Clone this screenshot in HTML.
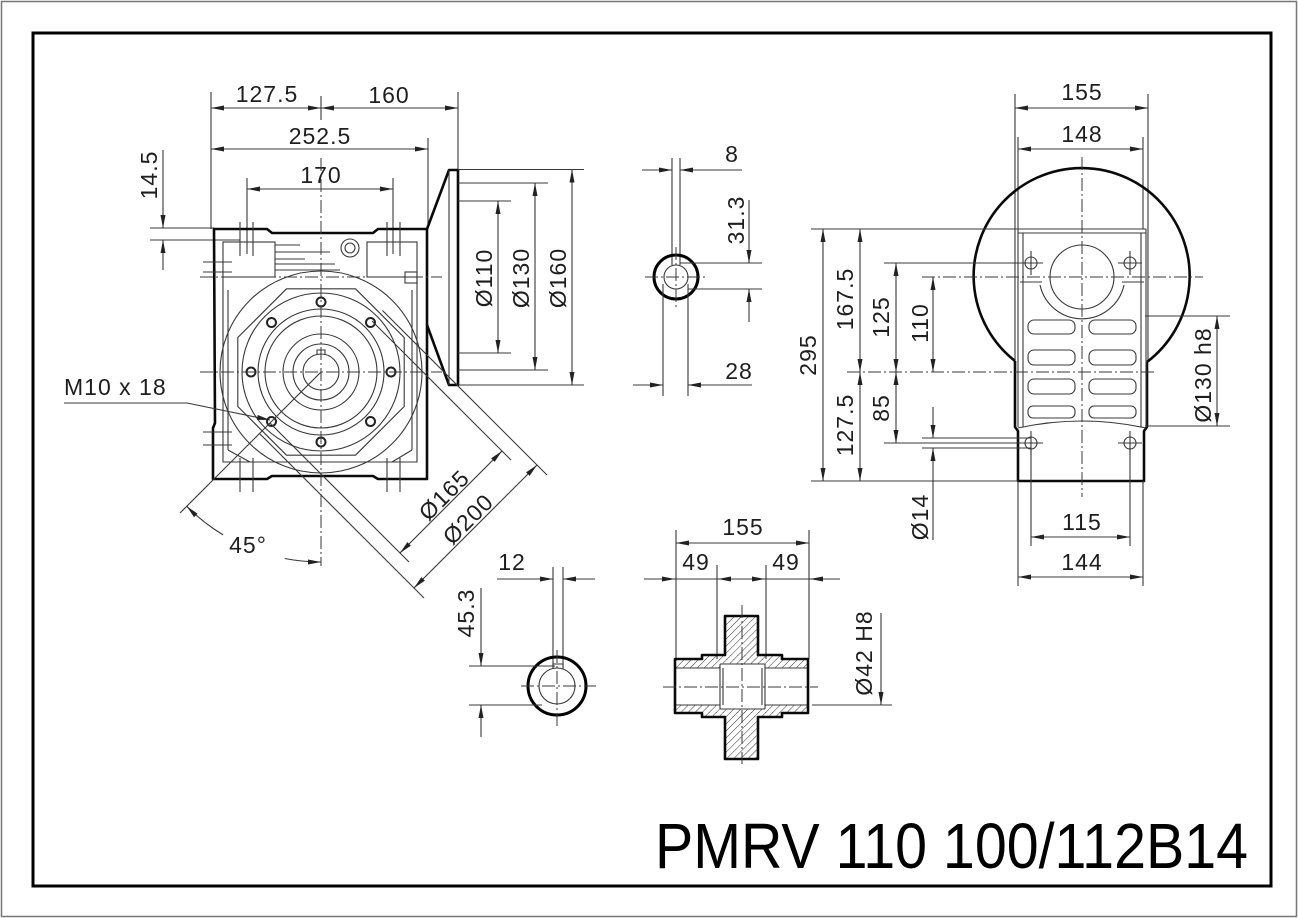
<!DOCTYPE html>
<html><head><meta charset="utf-8"><style>
html,body{margin:0;padding:0;background:#fff;}
svg{display:block}
text{font-family:"Liberation Sans",Arial,sans-serif;fill:#1e1e1e;}
.n{font-size:23px;letter-spacing:1px;text-anchor:middle;dominant-baseline:central;}
.t{stroke:#383838;stroke-width:1.1;fill:none;}
.k{stroke:#0a0a0a;stroke-width:2.6;fill:none;stroke-linejoin:round;}
.c{stroke:#383838;stroke-width:1;fill:none;stroke-dasharray:13 3 2 3;}
.d{marker-start:url(#a);marker-end:url(#a);}
.e{marker-end:url(#a);}
</style></head><body>
<svg width="1298" height="918" viewBox="0 0 1298 918" xmlns="http://www.w3.org/2000/svg">
<defs>
<marker id="a" viewBox="0 0 13 5" refX="13" refY="2.5" markerWidth="13" markerHeight="5" markerUnits="userSpaceOnUse" orient="auto-start-reverse"><path d="M0,0L13,2.5L0,5Z" fill="#222"/></marker>
<pattern id="h" width="5" height="5" patternUnits="userSpaceOnUse" patternTransform="rotate(45)"><line x1="0" y1="0" x2="0" y2="5" stroke="#333" stroke-width="1"/></pattern>
</defs>
<rect x="1.5" y="1.5" width="1295" height="915" fill="#fff" stroke="#777" stroke-width="1.5"/>
<rect x="33" y="33" width="1238" height="853" fill="none" stroke="#000" stroke-width="3"/>

<!-- ================= LEFT VIEW ================= -->
<g class="t">
<line x1="211" y1="92" x2="211" y2="229"/>
<line x1="321" y1="96" x2="321" y2="120"/>
<line x1="458" y1="92" x2="458" y2="170"/>
<line x1="428" y1="138" x2="428" y2="229"/>
<line x1="247" y1="178" x2="247" y2="254"/>
<line x1="393" y1="178" x2="393" y2="254"/>
</g>
<g class="t d">
<line x1="211" y1="108" x2="321" y2="108"/>
<line x1="321" y1="108" x2="458" y2="108"/>
<line x1="211" y1="149" x2="428" y2="149"/>
<line x1="247" y1="189" x2="393" y2="189"/>
</g>
<text class="n" x="267" y="94">127.5</text>
<text class="n" x="389" y="95">160</text>
<text class="n" x="320" y="136">252.5</text>
<text class="n" x="321" y="175">170</text>

<!-- 14.5 -->
<line class="t" x1="150" y1="228" x2="214" y2="228"/>
<line class="t" x1="150" y1="240" x2="240" y2="240"/>
<line class="t e" x1="163" y1="150" x2="163" y2="228"/>
<line class="t e" x1="163" y1="270" x2="163" y2="240"/>
<text class="n" transform="translate(149,175) rotate(-90)">14.5</text>

<!-- flange -->
<path class="k" d="M427,229 L449,170 L458,170 L458,385 L449,385 L427,325"/>
<line class="t" x1="449" y1="170" x2="449" y2="385"/>
<g class="t">
<line x1="458" y1="169.5" x2="584" y2="169.5"/>
<line x1="458" y1="183" x2="548" y2="183"/>
<line x1="458" y1="201" x2="511" y2="201"/>
<line x1="458" y1="353" x2="511" y2="353"/>
<line x1="458" y1="370" x2="548" y2="370"/>
<line x1="458" y1="385" x2="584" y2="385"/>
</g>
<g class="t d">
<line x1="498" y1="201" x2="498" y2="353"/>
<line x1="535" y1="183" x2="535" y2="370"/>
<line x1="572" y1="169.5" x2="572" y2="385"/>
</g>
<text class="n" transform="translate(484,278) rotate(-90)">Ø110</text>
<text class="n" transform="translate(521,278) rotate(-90)">Ø130</text>
<text class="n" transform="translate(558,278) rotate(-90)">Ø160</text>

<!-- housing -->
<path class="k" d="M214,229 H267 L272,233 H373 L378,229 H427 V479 H378 L373,476 H272 L267,479 H213 V428 L215,423 Z"/>
<rect class="t" x="223" y="242" width="52" height="35"/>
<rect class="t" x="367" y="242" width="50" height="35"/>
<path class="t" d="M275,245 H300 M275,252 H330 M275,259 H305 M275,264 H335 M275,270 H340 M223,277 V462 H417 V277 M228,290 V450 M412,290 V450 M228,450 L250,462 M412,450 L392,462"/>
<circle class="t" cx="350" cy="248" r="9"/><circle class="t" cx="350" cy="248" r="5"/>
<rect class="t" x="405" y="272" width="12" height="11"/>
<path class="t" d="M203,262 H232 M203,272 H232 M203,432 H232 M203,445 H232 M240,458 V492 M253,458 V492 M387,458 V492 M400,458 V492 M240,222 V256 M253,222 V256 M387,222 V256 M400,222 V256"/>

<!-- wheel -->
<circle class="t" cx="321" cy="372" r="101" stroke-width="1.3"/>
<polygon class="t" points="404.2,406.5 355.5,455.2 286.5,455.2 237.8,406.5 237.8,337.5 286.5,288.8 355.5,288.8 404.2,337.5" stroke-linejoin="round"/>
<circle class="t" cx="321" cy="372" r="79"/>
<circle class="t" cx="321" cy="372" r="63"/>
<circle class="t" cx="321" cy="372" r="56"/>
<circle class="t" cx="321" cy="372" r="38"/>
<circle class="t" cx="321" cy="372" r="28"/>
<circle class="t" cx="321" cy="372" r="18"/>
<path class="t" d="M317,354.5 V350 H325 V354.5"/>
<g stroke="#222" stroke-width="2" fill="#fff">
<circle cx="391" cy="372" r="4.5"/><circle cx="370.5" cy="421.5" r="4.5"/>
<circle cx="321" cy="442" r="4.5"/><circle cx="271.5" cy="421.5" r="4.5"/>
<circle cx="251" cy="372" r="4.5"/><circle cx="271.5" cy="322.5" r="4.5"/>
<circle cx="321" cy="302" r="4.5"/><circle cx="370.5" cy="322.5" r="4.5"/>
</g>
<g class="c">
<line x1="321" y1="158" x2="321" y2="566"/>
<line x1="200" y1="372" x2="442" y2="372"/>
<line x1="200" y1="277" x2="442" y2="277"/>
</g>

<!-- diagonal diameters -->
<g class="t">
<line x1="270" y1="423" x2="409" y2="562"/>
<line x1="372" y1="321" x2="511" y2="460"/>
<line x1="259.5" y1="433.5" x2="424" y2="598"/>
<line x1="382.5" y1="310.5" x2="547" y2="475"/>
</g>
<g class="t d">
<line x1="400" y1="553" x2="502" y2="451"/>
<line x1="414" y1="588" x2="537" y2="465"/>
</g>
<text class="n" transform="translate(444,495) rotate(-45)">Ø165</text>
<text class="n" transform="translate(468,519) rotate(-45)">Ø200</text>

<!-- 45 deg -->
<line class="t" x1="321" y1="372" x2="180" y2="513"/>
<path class="t e" d="M223.1,534.9 A190,190 0 0,1 186.7,506.3"/>
<path class="t e" d="M284.7,558.5 A190,190 0 0,0 321,562"/>
<text class="n" x="248" y="545">45°</text>

<!-- M10 -->
<text x="64" y="395" style="font-size:23px;letter-spacing:1px">M10 x 18</text>
<path class="t e" d="M64,403 H187 L270,420"/>

<!-- ================= MIDDLE KEY ================= -->
<line class="t" x1="672" y1="158" x2="672" y2="265"/>
<line class="t" x1="680" y1="158" x2="680" y2="265"/>
<line class="t e" x1="642" y1="170" x2="672" y2="170"/>
<line class="t e" x1="742" y1="170" x2="680" y2="170"/>
<text class="n" x="732" y="154">8</text>
<circle cx="676" cy="277" r="22" stroke="#000" stroke-width="3" fill="none"/>
<circle class="t" cx="676" cy="277" r="12"/>
<line class="c" x1="645" y1="277" x2="708" y2="277"/>
<line class="c" x1="676" y1="247" x2="676" y2="310"/>
<line class="t" x1="680" y1="263" x2="762" y2="263"/>
<line class="t" x1="688" y1="289" x2="762" y2="289"/>
<line class="t e" x1="749" y1="200" x2="749" y2="263"/>
<line class="t e" x1="749" y1="322" x2="749" y2="289"/>
<text class="n" transform="translate(736,220) rotate(-90)">31.3</text>
<line class="t" x1="663" y1="284" x2="663" y2="396"/>
<line class="t" x1="688" y1="284" x2="688" y2="396"/>
<line class="t e" x1="633" y1="385" x2="663" y2="385"/>
<line class="t e" x1="752" y1="385" x2="688" y2="385"/>
<text class="n" x="739" y="371">28</text>

<!-- ================= BOTTOM KEY ================= -->
<line class="t" x1="553" y1="567" x2="553" y2="668"/>
<line class="t" x1="563" y1="567" x2="563" y2="668"/>
<line class="t e" x1="497" y1="579" x2="553" y2="579"/>
<line class="t e" x1="595" y1="579" x2="563" y2="579"/>
<text class="n" x="512" y="562">12</text>
<circle cx="557" cy="686" r="29" stroke="#000" stroke-width="3" fill="none"/>
<circle class="t" cx="557" cy="686" r="18"/>
<path class="t" d="M553,669 V664 H563 V669"/>
<line class="c" x1="521" y1="686" x2="596" y2="686"/>
<line class="c" x1="557" y1="650" x2="557" y2="726"/>
<line class="t" x1="469" y1="666" x2="555" y2="666"/>
<line class="t" x1="469" y1="705" x2="542" y2="705"/>
<line class="t e" x1="481" y1="588" x2="481" y2="666"/>
<line class="t e" x1="481" y1="737" x2="481" y2="705"/>
<text class="n" transform="translate(466,613) rotate(-90)">45.3</text>

<!-- ================= HOLLOW SHAFT ================= -->
<line class="t" x1="676" y1="530" x2="676" y2="659"/>
<line class="t" x1="809" y1="530" x2="809" y2="659"/>
<line class="t" x1="717" y1="565" x2="717" y2="659"/>
<line class="t" x1="766" y1="565" x2="766" y2="659"/>
<line class="t d" x1="676" y1="543" x2="809" y2="543"/>
<text class="n" x="743" y="527">155</text>
<line class="t" x1="644" y1="579" x2="840" y2="579"/>
<line class="t e" x1="648" y1="579" x2="675" y2="579"/>
<line class="t e" x1="745" y1="579" x2="718" y2="579"/>
<line class="t e" x1="738" y1="579" x2="765" y2="579"/>
<line class="t e" x1="837" y1="579" x2="810" y2="579"/>
<text class="n" x="696" y="562">49</text>
<text class="n" x="786" y="562">49</text>
<rect x="676" y="659" width="132" height="9" fill="url(#h)"/>
<rect x="702" y="655" width="80" height="5" fill="url(#h)"/>
<rect x="676" y="705" width="132" height="8" fill="url(#h)"/>
<rect x="702" y="712" width="80" height="5" fill="url(#h)"/>
<rect x="725" y="616" width="33" height="40" fill="url(#h)"/>
<rect x="725" y="716" width="33" height="43" fill="url(#h)"/>
<rect x="720" y="664" width="45" height="45" fill="#fff"/>
<path class="t" d="M676,668 H720 M765,668 H808 M676,705 H720 M765,705 H808 M720,664 H765 M720,709 H765 M720,664 V709 M765,664 V709 M723,668 V705 M762,668 V705"/>
<path class="k" d="M675,659 H702 V655 H725 V616 H758 V655 H782 V659 H808 V713 H782 V717 H758 V759 H725 V717 H702 V713 H675 Z"/>
<line class="c" x1="663" y1="687" x2="818" y2="687"/>
<line class="c" x1="742" y1="605" x2="742" y2="764"/>
<line class="t" x1="812" y1="705" x2="892" y2="705"/>
<line class="t e" x1="881" y1="613" x2="881" y2="705"/>
<text class="n" transform="translate(864,653) rotate(-90)">Ø42 H8</text>

<!-- ================= RIGHT VIEW ================= -->
<g class="t">
<line x1="1015" y1="94" x2="1015" y2="361"/>
<line x1="1148" y1="94" x2="1148" y2="362"/>
<line x1="1018" y1="137" x2="1018" y2="229"/>
<line x1="1143" y1="137" x2="1143" y2="229"/>
</g>
<line class="t d" x1="1015" y1="108" x2="1148" y2="108"/>
<line class="t d" x1="1018" y1="149" x2="1143" y2="149"/>
<text class="n" x="1082" y="92">155</text>
<text class="n" x="1082" y="134">148</text>

<path class="k" d="M1015,361 A108,108 0 1,1 1147,362"/>
<path class="k" d="M1015,361 V427 L1018,431 V481 H1144 V431 L1147,427 V362"/>
<path class="t" d="M811,229 H1146 M1018,233 H1146 M1018,229 V427 M1146,229 V427 M1023,233 V427 M1141,233 V427 M1018,428 Q1082,414 1146,428"/>
<circle class="t" cx="1082" cy="277" r="32"/>
<path class="t" d="M1040,285 A43,43 0 0,0 1124,285 M1020,282 H1042 M1144,282 H1122"/>
<g class="t">
<rect x="1028" y="320" width="47" height="14" rx="6"/>
<rect x="1028" y="350" width="47" height="15" rx="6"/>
<rect x="1028" y="379" width="47" height="15" rx="6"/>
<rect x="1028" y="406" width="47" height="12" rx="5"/>
<rect x="1089" y="320" width="47" height="14" rx="6"/>
<rect x="1089" y="350" width="47" height="15" rx="6"/>
<rect x="1089" y="379" width="47" height="15" rx="6"/>
<rect x="1089" y="406" width="47" height="12" rx="5"/>
<circle cx="1031" cy="263" r="6"/><circle cx="1130" cy="263" r="6"/>
<circle cx="1031" cy="443" r="6"/><circle cx="1130" cy="443" r="6"/>
<path d="M1019,263 H1043 M1031,251 V275 M1118,263 H1142 M1130,251 V275 M1019,443 H1043 M1031,431 V455 M1118,443 H1142 M1130,431 V455"/>
</g>
<g class="c">
<line x1="922" y1="277" x2="1203" y2="277"/>
<line x1="847" y1="372" x2="1155" y2="372"/>
<line x1="1082" y1="157" x2="1082" y2="497"/>
</g>
<!-- left dims -->
<g class="t">
<line x1="811" y1="481" x2="1018" y2="481"/>
<line x1="884" y1="263" x2="1043" y2="263"/>
<line x1="884" y1="443" x2="1043" y2="443"/>
<line x1="922" y1="438" x2="1031" y2="438"/>
<line x1="922" y1="448" x2="1031" y2="448"/>
</g>
<g class="t d">
<line x1="823" y1="229" x2="823" y2="481"/>
<line x1="860" y1="229" x2="860" y2="372"/>
<line x1="860" y1="372" x2="860" y2="481"/>
<line x1="896" y1="263" x2="896" y2="372"/>
<line x1="896" y1="372" x2="896" y2="443"/>
<line x1="933" y1="277" x2="933" y2="372"/>
</g>
<line class="t e" x1="933" y1="407" x2="933" y2="438"/>
<line class="t e" x1="933" y1="540" x2="933" y2="448"/>
<text class="n" transform="translate(808,355) rotate(-90)">295</text>
<text class="n" transform="translate(845,299) rotate(-90)">167.5</text>
<text class="n" transform="translate(845,425) rotate(-90)">127.5</text>
<text class="n" transform="translate(881,317) rotate(-90)">125</text>
<text class="n" transform="translate(881,408) rotate(-90)">85</text>
<text class="n" transform="translate(920,323) rotate(-90)">110</text>
<text class="n" transform="translate(920,517) rotate(-90)">Ø14</text>
<!-- right dim -->
<line class="t" x1="1145" y1="316" x2="1230" y2="316"/>
<line class="t" x1="1145" y1="426" x2="1230" y2="426"/>
<line class="t d" x1="1217" y1="316" x2="1217" y2="426"/>
<text class="n" transform="translate(1203,375) rotate(-90)">Ø130 h8</text>
<!-- bottom dims -->
<g class="t">
<line x1="1031" y1="449" x2="1031" y2="546"/>
<line x1="1130" y1="449" x2="1130" y2="546"/>
<line x1="1018" y1="481" x2="1018" y2="586"/>
<line x1="1143" y1="481" x2="1143" y2="586"/>
</g>
<line class="t d" x1="1031" y1="537" x2="1130" y2="537"/>
<line class="t d" x1="1018" y1="577" x2="1143" y2="577"/>
<text class="n" x="1082" y="522">115</text>
<text class="n" x="1082" y="562">144</text>

<!-- title -->
<text x="655" y="868" font-size="64" textLength="593" lengthAdjust="spacingAndGlyphs" style="font-family:'Liberation Sans Narrow','Liberation Sans',sans-serif;fill:#000">PMRV 110 100/112B14</text>
</svg>
</body></html>
